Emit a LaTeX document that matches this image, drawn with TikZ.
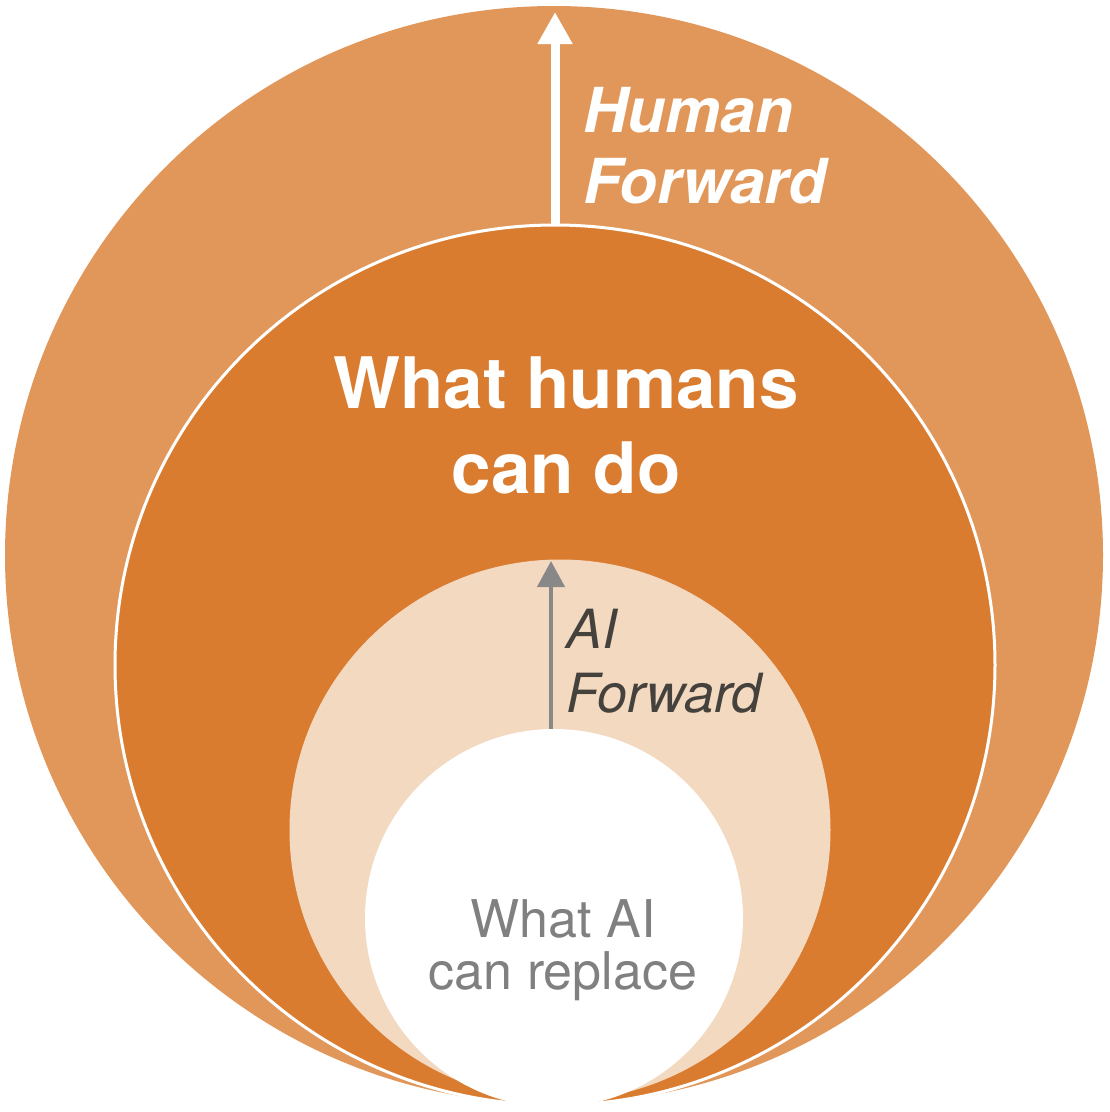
\documentclass[tikz,border=0pt]{standalone}
\usepackage{fontspec}
\setmainfont{TeX Gyre Heros}
\usetikzlibrary{arrows.meta}
\definecolor{outerC}{HTML}{E2975A}
\definecolor{midC}{HTML}{DA7C30}
\definecolor{peachC}{HTML}{F4D9C1}
\definecolor{greyT}{HTML}{808080}
\definecolor{darkT}{HTML}{45423E}
\definecolor{arrowG}{HTML}{888888}
\tikzset{
  ring/.style={circle, inner sep=0pt, outer sep=0pt},
  lbl/.style={inner sep=0pt, outer sep=0pt},
}
\begin{document}
\begin{tikzpicture}[x=1pt, y=-1pt]
\useasboundingbox (0,0) rectangle (1110,1112);
\node[ring, fill=outerC, minimum size=1098pt] (outer) at (554,555) {};
\node[ring, fill=midC, draw=white, line width=3pt, minimum size=880pt] (mid) at (555,665) {};
\node[ring, fill=peachC, minimum size=541pt] (peach) at (560,830) {};
\node[ring, fill=white, minimum size=378pt] (inner) at (554,918) {};
% arrows
\coordinate (htip) at (555,12);
\coordinate (abase) at (551,729);
\coordinate (atip) at (551,561);
\draw[white, line width=9pt, -{Triangle[width=33pt,length=32pt]}] (mid.north) -- (htip);
\draw[arrowG, line width=4.3pt, -{Triangle[width=27pt,length=26pt]}] (abase) -- (atip);
% texts (base anchor = baseline of the last line)
\node[lbl, anchor=base west, align=left, text=white, font=\fontsize{62}{71}\selectfont\bfseries\itshape] (hf) at (583,203) {Human\\Forward};
\node[lbl, anchor=base, align=center, text=white, font=\fontsize{71}{85}\selectfont\bfseries] (whcd) at (566,493) {What humans\\can do};
\node[lbl, anchor=base west, align=left, text=darkT, font=\fontsize{54}{64}\selectfont\itshape] (af) at (566,712) {AI\\Forward};
\node[lbl, anchor=base, align=center, text=greyT, font=\fontsize{52}{52}\selectfont] (wacr) at (563,989) {What AI\\can replace};
\end{tikzpicture}
\end{document}
